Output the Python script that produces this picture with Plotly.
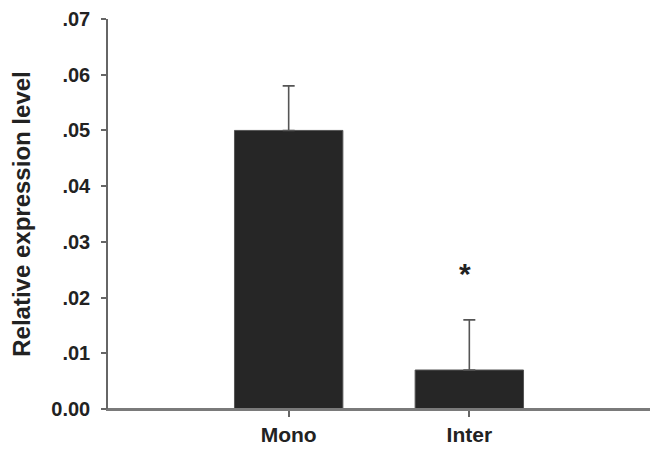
import plotly.graph_objects as go

# Relative expression by cell group
groups = ["Mono", "Inter"]
expression = [0.050, 0.007]
error_plus = [0.008, 0.009]
significance = ["", "*"]

y_ticks = [0.0, 0.01, 0.02, 0.03, 0.04, 0.05, 0.06, 0.07]
y_tick_labels = ["0.00", ".01", ".02", ".03", ".04", ".05", ".06", ".07"]

FONT = "Liberation Sans, Arial, sans-serif"
TEXT = "#222222"
AXIS_GREY = "#7a7a7a"

x_pos = list(range(len(groups)))

fig = go.Figure()
fig.add_trace(go.Bar(
    x=x_pos,
    y=expression,
    width=0.6,
    marker=dict(color="#262626", line=dict(color="#555555", width=1)),
    error_y=dict(
        type="data",
        symmetric=False,
        array=error_plus,
        arrayminus=[0] * len(groups),
        color="#555555",
        thickness=1.6,
        width=6,
    ),
    showlegend=False,
))

for xi, top, err, mark in zip(x_pos, expression, error_plus, significance):
    if mark:
        fig.add_annotation(
            x=xi, y=top + err + 0.0084, text=mark, showarrow=False,
            xshift=-4, yanchor="middle",
            font=dict(family=FONT, size=30, color=TEXT, weight="bold"),
        )

# baseline carried through to the right edge of the figure
fig.add_shape(
    type="line", xref="paper", yref="y", x0=0, x1=1.05, y0=0, y1=0,
    line=dict(color=AXIS_GREY, width=2), layer="above",
)

fig.update_layout(
    width=650, height=451,
    margin=dict(l=108, r=0, t=19, b=42, autoexpand=False),
    paper_bgcolor="white",
    plot_bgcolor="white",
    bargap=0.4,
    xaxis=dict(
        range=[-1, 2],
        automargin=False,
        tickmode="array",
        tickvals=x_pos,
        ticktext=groups,
        ticks="outside",
        ticklen=6,
        tickwidth=1.5,
        tickcolor="#666666",
        showline=True,
        linecolor=AXIS_GREY,
        linewidth=2,
        showgrid=False,
        zeroline=False,
        tickfont=dict(family=FONT, size=21, color=TEXT, weight="bold"),
    ),
    yaxis=dict(
        range=[0, 0.07],
        automargin=False,
        tickmode="array",
        tickvals=y_ticks,
        ticktext=y_tick_labels,
        ticks="outside",
        ticklen=5,
        tickwidth=1.5,
        tickcolor="#666666",
        ticklabelstandoff=7,
        showline=True,
        linecolor="#666666",
        linewidth=1.5,
        showgrid=False,
        zeroline=False,
        tickfont=dict(family=FONT, size=20, color=TEXT, weight="bold"),
        title=dict(
            text="Relative expression level",
            font=dict(family=FONT, size=24, color=TEXT, weight="bold"),
            standoff=14,
        ),
    ),
)

# clip the figure container and hide page scrollbars
fig.write_html(
    "out.html",
    post_script=(
        "var d=document.getElementById('{plot_id}');"
        "if(d){d.style.overflow='hidden';}"
        "document.documentElement.style.overflow='hidden';"
        "document.body.style.overflow='hidden';"
    ),
)
